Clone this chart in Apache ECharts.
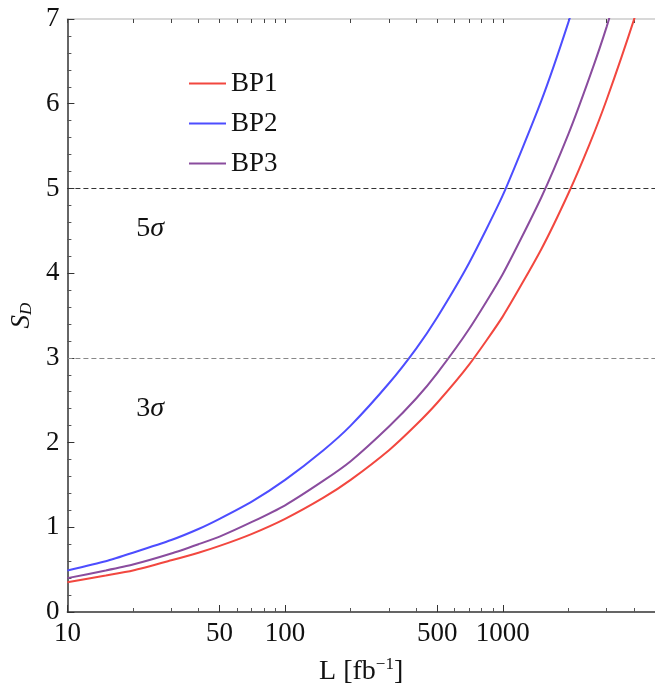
<!DOCTYPE html>
<html lang="en">
  <head>
    <meta charset="UTF-8" />
    <title>S_D vs L</title>
    <script src="https://cdn.jsdelivr.net/npm/echarts@6/dist/echarts.min.js"></script>
    <style>
      html, body { margin: 0; padding: 0; background: #fff; }
    </style>
  </head>

  <body>
    <div id="main" style="width: 655px; height: 691px"></div>

    <script>
      // luminosity points (fb^-1) and significance
      var lumi = [10, 15, 20, 30, 40, 50, 70, 100, 150, 200, 300, 400, 500, 700, 1000, 1500, 2000, 2500, 3000, 4000, 5000];
      var sdBP1 = [0.35, 0.43, 0.49, 0.61, 0.70, 0.78, 0.92, 1.10, 1.35, 1.56, 1.91, 2.21, 2.47, 2.92, 3.49, 4.28, 4.94, 5.52, 6.05, 6.99, 7.81];
      var sdBP2 = [0.49, 0.60, 0.70, 0.85, 0.98, 1.10, 1.30, 1.56, 1.91, 2.20, 2.70, 3.11, 3.48, 4.12, 4.92, 6.03, 6.96, 7.78, null, null, null];
      var sdBP3 = [0.40, 0.49, 0.56, 0.69, 0.80, 0.89, 1.06, 1.26, 1.55, 1.78, 2.19, 2.52, 2.82, 3.34, 3.99, 4.89, 5.64, 6.31, 6.91, 7.98, null];

      var xLabels = [10, 50, 100, 500, 1000];
      var xMajorTicks = [10, 50, 100, 500, 1000, 5000];
      var xMinorTicks = [20, 30, 40, 60, 70, 80, 90, 200, 300, 400, 600, 700, 800, 900, 2000, 3000, 4000];

      var serif = "Liberation Serif";

      function pairs(ys) {
        var out = [];
        for (var i = 0; i < lumi.length; i++) {
          if (ys[i] != null) out.push([lumi[i], ys[i]]);
        }
        return out;
      }

      var chart = echarts.init(document.getElementById("main"));

      var option = {
        animation: false,
        grid: { left: 65, right: 0, top: 19, bottom: 79 },
        legend: {
          orient: "vertical",
          left: 184,
          top: 65,
          itemWidth: 37,
          itemHeight: 2,
          itemGap: 13,
          icon: "rect",
          textStyle: { fontFamily: serif, fontSize: 27, color: "#111" },
          data: ["BP1", "BP2", "BP3"],
        },
        xAxis: [
          {
            type: "log",
            logBase: 10,
            min: 10,
            max: 5000,
            position: "bottom",
            name: "L [fb{sup|−1}]",
            nameLocation: "middle",
            nameGap: 44,
            nameTextStyle: {
              fontFamily: serif,
              fontSize: 28,
              color: "#111",
              rich: { sup: { fontFamily: serif, fontSize: 17, color: "#111", verticalAlign: "top", padding: [0, 0, 14, 0] } },
            },
            axisLine: { lineStyle: { color: "#333", width: 1.5 } },
            axisTick: { inside: true, length: 7, customValues: xMajorTicks, lineStyle: { color: "#333" } },
            axisLabel: {
              customValues: xLabels,
              fontFamily: serif,
              fontSize: 27,
              color: "#111",
              margin: 8,
              formatter: function (v) {
                return String(Math.round(v));
              },
            },
            splitLine: { show: false },
            minorTick: { show: false },
          },
          {
            type: "log",
            logBase: 10,
            min: 10,
            max: 5000,
            position: "bottom",
            axisLine: { show: false },
            axisTick: { inside: true, length: 4, customValues: xMinorTicks, lineStyle: { color: "#555" } },
            axisLabel: { show: false },
            splitLine: { show: false },
          },
          {
            type: "log",
            logBase: 10,
            min: 10,
            max: 5000,
            position: "top",
            axisLine: { lineStyle: { color: "#ccc", width: 1.5 } },
            axisTick: { inside: true, length: 4, customValues: xMajorTicks.concat(xMinorTicks), lineStyle: { color: "#444" } },
            axisLabel: { show: false },
            splitLine: { show: false },
          },
        ],
        yAxis: {
          type: "value",
          min: 0,
          max: 7,
          interval: 1,
          name: "{s|S}{sub|D}",
          nameLocation: "middle",
          nameGap: 31,
          nameRotate: 90,
          nameTextStyle: {
            rich: {
              s: { fontFamily: serif, fontStyle: "italic", fontSize: 27, color: "#111" },
              sub: { fontFamily: serif, fontStyle: "italic", fontSize: 17, color: "#111", verticalAlign: "bottom", padding: [8, 0, 0, 0] },
            },
          },
          axisLine: { show: true, lineStyle: { color: "#333", width: 1.5 } },
          axisTick: { show: true, inside: true, length: 7, lineStyle: { color: "#333" } },
          minorTick: { show: true, splitNumber: 5, length: 4, lineStyle: { color: "#555" } },
          axisLabel: { fontFamily: serif, fontSize: 27, color: "#111", margin: 8 },
          splitLine: { show: false },
        },
        series: [
          {
            name: "BP1",
            type: "line",
            data: pairs(sdBP1),
            showSymbol: false,
            smooth: 0.2,
            clip: true,
            color: "#f2473f",
            lineStyle: { width: 2 },
            markLine: {
              silent: true,
              symbol: "none",
              label: { show: false },
              data: [
                { yAxis: 5, lineStyle: { color: "#333", type: [5, 3], width: 1.2 } },
                { yAxis: 3, lineStyle: { color: "#888", type: [5, 3], width: 1.2 } },
              ],
            },
            markPoint: {
              symbol: "circle",
              symbolSize: 0,
              label: {
                show: true,
                position: "inside",
                formatter: function (p) {
                  return "{n|" + p.name + "}{g|σ}";
                },
                rich: {
                  n: { fontFamily: serif, fontSize: 28, color: "#111" },
                  g: { fontFamily: serif, fontStyle: "italic", fontSize: 28, color: "#111" },
                },
              },
              data: [
                { name: "5", coord: [24, 4.52] },
                { name: "3", coord: [24, 2.4] },
              ],
            },
          },
          {
            name: "BP2",
            type: "line",
            data: pairs(sdBP2),
            showSymbol: false,
            smooth: 0.2,
            clip: true,
            color: "#4d4dff",
            lineStyle: { width: 2 },
          },
          {
            name: "BP3",
            type: "line",
            data: pairs(sdBP3),
            showSymbol: false,
            smooth: 0.2,
            clip: true,
            color: "#8a4c9e",
            lineStyle: { width: 2 },
          },
        ],
      };

      chart.setOption(option);
    </script>
  </body>
</html>
